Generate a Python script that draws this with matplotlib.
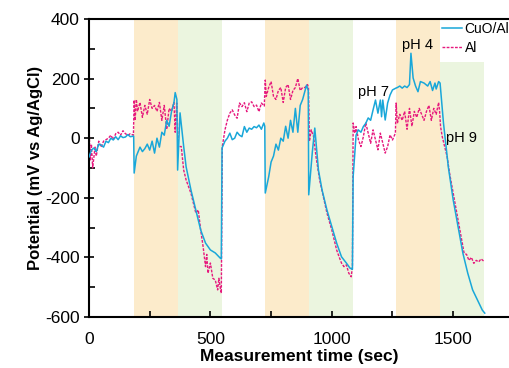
import numpy as np
import matplotlib.pyplot as plt

plt.rcParams['font.family'] = ['Liberation Sans', 'DejaVu Sans']
plt.rcParams['axes.unicode_minus'] = False

################# Data #################

# CuO/Al electrode (solid blue)
tCuO = [0, 10, 20, 30, 40, 50, 60, 70, 80, 90, 100, 110, 120, 130, 140, 150, 160, 170, 184,
        186, 195, 205, 210, 220, 230, 240, 250, 260, 270, 280, 290, 300, 310, 320, 330, 340, 350, 355, 362,
        365, 375, 390, 400, 420, 440, 460, 480, 500, 520, 540, 545,
        548, 560, 570, 580, 590, 600, 610, 620, 630, 640, 650, 660, 670, 680, 690, 700, 710, 720, 724,
        726, 740, 750, 760, 770, 780, 790, 800, 810, 820, 830, 840, 850, 860, 870, 880, 890, 896, 903,
        905, 920, 930, 945, 960, 980, 1000, 1020, 1040, 1060, 1075, 1085,
        1088, 1100, 1109, 1120, 1130, 1140, 1150, 1160, 1170, 1180, 1190, 1200, 1205, 1210, 1220, 1230, 1240, 1250, 1264,
        1270, 1280, 1290, 1300, 1310, 1320, 1326, 1335, 1345, 1355, 1365, 1380, 1395, 1405, 1415, 1425, 1430, 1440, 1446,
        1460, 1480, 1500, 1520, 1540, 1560, 1580, 1600, 1620, 1630]
vCuO = [-63, -40, -33, -45, -20, -23, -30, -10, -15, 0, -6, 5, -5, 8, 2, 4, 12, 5, 7,
        -117, -60, -40, -30, -45, -35, -20, -40, -10, -50, 0, -30, 20, 10, 60, 40, 90, 120, 153, 130,
        -107, 85, -28, -96, -174, -241, -308, -352, -375, -385, -402, -405,
        -33, -10, 0, 17, -5, 0, 20, 10, 5, 39, 20, 34, 30, 39, 35, 44, 30, 51, 40,
        -184, -130, -80, -60, -20, -40, 0, -10, 40, 0, 60, 20, 100, 20, 110, 130, 160, 178, 160,
        -190, -45, 34, -107, -174, -241, -297, -352, -398, -419, -436, -440,
        -129, 10, 28, 20, 39, 50, 68, 60, 95, 128, 84, 128, 72, 128, 61, 118, 145, 162, 168,
        170, 175, 168, 175, 170, 180, 285, 202, 175, 156, 190, 185, 175, 190, 160, 185, 165, 190, 185,
        51, -97, -207, -297, -386, -453, -509, -543, -577, -587]

# Al electrode (dashed pink)
tAl = [0, 5, 10, 15, 25, 30, 40, 50, 60, 70, 80, 90, 100, 110, 120, 130, 140, 150, 160, 170, 183,
       186, 190, 195, 200, 210, 220, 230, 240, 250, 260, 270, 280, 290, 300, 310, 320, 330, 340, 350, 355, 361,
       368, 380, 390, 400, 420, 440, 450, 460, 470, 480, 485, 490, 500, 510, 520, 530, 535, 540, 545,
       549, 560, 570, 580, 590, 600, 610, 620, 630, 640, 650, 660, 670, 680, 690, 700, 710, 722,
       726, 730, 740, 750, 760, 770, 780, 790, 800, 810, 820, 830, 840, 850, 860, 870, 880, 890, 900, 904,
       908, 915, 925, 935, 950, 965, 980, 1000, 1020, 1030, 1040, 1050, 1060, 1070, 1080, 1085,
       1088, 1095, 1100, 1110, 1120, 1130, 1140, 1150, 1160, 1170, 1180, 1190, 1200, 1210, 1220, 1230, 1240, 1250, 1262,
       1265, 1270, 1280, 1290, 1300, 1310, 1320, 1330, 1340, 1350, 1360, 1370, 1380, 1390, 1400, 1410, 1420, 1430, 1440, 1444,
       1448, 1455, 1465, 1475, 1485, 1495, 1505, 1515, 1525, 1535, 1545, 1555, 1565, 1575, 1585, 1595, 1605, 1615, 1625]
vAl = [39, -73, -20, -100, -30, -60, -10, -30, -10, -5, 0, 10, -5, 15, 20, 10, 25, 15, 10, 15, 10,
       128, 60, 130, 90, 120, 70, 110, 80, 130, 100, 110, 90, 120, 60, 110, 30, 100, 90, 120, 20, 118,
       -28, -28, -107, -140, -185, -251, -241, -308, -364, -431, -390, -453, -419, -470, -476, -509, -470, -499, -520,
       -28, 28, 61, 84, 95, 78, 67, 118, 106, 119, 89, 118, 122, 106, 111, 89, 118, 108,
       195, 140, 170, 190, 140, 130, 160, 170, 120, 170, 180, 130, 160, 170, 200, 160, 170, 170, 180, 170,
       -10, 28, 5, -62, -140, -196, -251, -308, -375, -398, -419, -431, -425, -453, -465, -430,
       51, 17, 39, -6, -28, 5, 51, 17, -17, 28, -6, -39, 17, -17, -50, -28, 11, -6, 17,
       118, 50, 80, 60, 90, 30, 100, 40, 90, 70, 100, 80, 60, 90, 110, 60, 100, 80, 120, 90,
       39, 5, -28, -62, -117, -162, -207, -251, -297, -341, -386, -390, -410, -400, -420, -410, -415, -405, -412]

# shaded pH windows (start, end, colour, top of band)
orange = '#fcebcb'
green = '#ebf5df'
bands = [(185, 368, orange, 400), (368, 546, green, 400),
         (725, 905, orange, 400), (905, 1086, green, 400),
         (1264, 1445, orange, 400), (1445, 1626, green, 255)]

phLabels = ['pH 7', 'pH 4', 'pH 9']
phPos = [(1170, 155), (1353, 313), (1533, 0)]

################# Plot #################

fig = plt.figure(figsize=(5.1, 3.68), dpi=100)
ax = fig.add_axes([0.1745, 0.1386, 0.8255, 0.8098])

for x0, x1, c, top in bands:
    ax.fill_between([x0, x1], -600, top, color=c, lw=0, zorder=0)

ax.plot(tCuO, vCuO, color='#19a7d9', lw=1.1, label='CuO/Al', zorder=3)
ax.plot(tAl, vAl, color='#e6197d', lw=1.0, ls=(0, (2, 1)), label='Al', zorder=2)

for lab, (x, y) in zip(phLabels, phPos):
    ax.text(x, y, lab, fontsize=10.5, ha='center', va='center', zorder=5)

ax.set_xlim(0, 1734)
ax.set_ylim(-600, 400)
ax.set_xticks([0, 500, 1000, 1500])
ax.set_xticks([250, 750, 1250], minor=True)
ax.set_yticks(np.arange(-600, 401, 200))
ax.set_yticks(np.arange(-500, 400, 200), minor=True)
ax.tick_params(axis='x', which='both', direction='in', length=4, width=1.2, labelsize=12.5, pad=11)
ax.tick_params(axis='y', which='major', direction='inout', length=7, width=1.2, labelsize=12.5, pad=3)
ax.tick_params(axis='y', which='minor', direction='in', length=4, width=1.2)

ax.spines['right'].set_visible(False)
for s in ['left', 'bottom', 'top']:
    ax.spines[s].set_linewidth(1.5)

ax.set_xlabel('Measurement time (sec)', fontsize=12.5, fontweight='bold', labelpad=1)
ax.set_ylabel('Potential (mV vs Ag/AgCl)', fontsize=12, fontweight='bold', labelpad=2)

fig.legend(loc='upper left', bbox_to_anchor=(0.866, 0.94), frameon=False, fontsize=10,
           handlelength=1.5, handletextpad=0.15, labelspacing=0.35, borderaxespad=0, borderpad=0)

fig.savefig('out.png', dpi=100)
